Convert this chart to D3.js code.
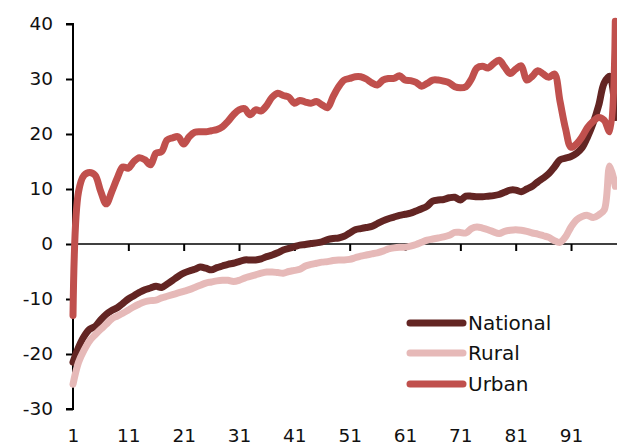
<!DOCTYPE html>
<html>
<head>
<meta charset="utf-8">
<script src="https://cdn.jsdelivr.net/npm/d3@7"></script>
<style>
  html, body { margin: 0; padding: 0; background: #fff; }
  svg { display: block; font-family: "DejaVu Sans", sans-serif; }
</style>
</head>
<body>
<svg id="chart" width="617" height="444"></svg>
<script>
const categories = d3.range(1, 100);
const xTickLabels = [1, 11, 21, 31, 41, 51, 61, 71, 81, 91];
const yTickLabels = [-30, -20, -10, 0, 10, 20, 30, 40];
const seriesNames = ["National", "Rural", "Urban"];

const national = [
  -21.5, -18.8, -16.8, -15.5, -15.0, -13.8, -12.8, -12.1, -11.6, -10.8,
  -10.0, -9.4, -8.8, -8.3, -8.0, -7.7, -7.9, -7.3, -6.6, -5.9,
  -5.3, -4.9, -4.6, -4.2, -4.4, -4.7, -4.3, -4.0, -3.7, -3.5,
  -3.2, -2.9, -2.9, -2.9, -2.7, -2.3, -2.0, -1.6, -1.1, -0.8,
  -0.5, -0.2, -0.1, 0.1, 0.2, 0.4, 0.8, 1.0, 1.1, 1.4,
  2.0, 2.6, 2.8, 3.0, 3.2, 3.7, 4.2, 4.6, 4.9, 5.2,
  5.4, 5.6, 6.0, 6.4, 6.9, 7.8, 8.0, 8.1, 8.4, 8.5,
  8.0, 8.7, 8.7, 8.6, 8.6, 8.7, 8.8, 9.0, 9.4, 9.8,
  9.8, 9.5, 10.0, 10.5, 11.3, 12.0, 12.8, 14.0, 15.3, 15.6,
  15.9, 16.5, 17.5, 19.5, 22.0, 25.2, 29.3, 30.5, 23.0
];

const rural = [
  -25.5, -21.5, -19.3, -17.6, -16.5, -15.5, -14.6, -13.6, -13.1, -12.6,
  -12.0, -11.4, -10.9, -10.5, -10.3, -10.2, -9.8, -9.5, -9.2, -8.9,
  -8.6, -8.3, -7.9, -7.5, -7.1, -6.9, -6.7, -6.6, -6.6, -6.8,
  -6.6, -6.2, -5.9, -5.6, -5.3, -5.1, -5.1, -5.2, -5.3, -5.0,
  -4.8, -4.6, -4.0, -3.7, -3.5, -3.3, -3.2, -3.0, -2.9, -2.9,
  -2.8, -2.5, -2.2, -2.0, -1.8, -1.6, -1.3, -0.9, -0.7, -0.6,
  -0.6, -0.4, -0.1, 0.3, 0.7, 0.9, 1.1, 1.3, 1.6, 2.1,
  2.1, 2.0, 2.8, 3.1, 2.9, 2.6, 2.2, 1.9, 2.3, 2.5,
  2.6, 2.5, 2.3, 2.0, 1.8, 1.5, 1.2, 0.6, 0.3, 1.3,
  3.1, 4.4, 5.0, 5.2, 4.8, 5.3, 6.2, 14.2, 10.5
];

const urban = [
  -13.0, 9.5, 12.5, 13.0, 12.5, 9.6, 7.3, 9.5, 12.0, 14.0,
  13.8, 15.0, 15.7, 15.3, 14.4, 16.5, 16.8, 18.9, 19.3, 19.5,
  18.2, 19.5, 20.3, 20.4, 20.4, 20.6, 20.8, 21.3, 22.3, 23.5,
  24.4, 24.6, 23.5, 24.4, 24.2, 25.2, 26.7, 27.4, 27.0, 26.7,
  25.6, 26.1, 25.8, 25.6, 25.9, 25.3, 24.8, 26.8, 28.6, 29.8,
  30.1, 30.4, 30.4, 30.0, 29.3, 28.9, 29.8, 30.1, 30.1, 30.6,
  29.8, 29.7, 29.4, 28.7, 29.2, 29.8, 29.8, 29.6, 29.3, 28.6,
  28.4, 28.6, 30.0, 32.0, 32.3, 32.0, 32.8, 33.4, 32.2, 31.0,
  31.8, 32.4, 29.8, 30.5, 31.5, 30.9, 30.3, 30.9, 26.0, 21.0,
  17.6, 18.2, 19.5, 21.2, 22.3, 23.0, 22.5, 20.4, 40.5
];

const colors = { National: "#632523", Rural: "#E6B9B8", Urban: "#C0504D" };
const seriesData = { National: national, Rural: rural, Urban: urban };

const svg = d3.select("#chart");

const x = d3.scalePoint().domain(categories).range([73, 615.3]);
const y = d3.scaleLinear().domain([-30, 40]).range([409, 24]);

// Y axis
const yAxis = svg.append("g")
  .attr("transform", "translate(73,0)")
  .call(d3.axisLeft(y).tickValues(yTickLabels).tickSize(7).tickPadding(13).tickFormat(d => String(d)));
yAxis.select(".domain").attr("stroke", "#000").attr("stroke-width", 2).attr("d", "M-7," + y(-30) + "H0V" + y(40) + "H-7");
yAxis.selectAll(".tick line").attr("stroke", "#000").attr("stroke-width", 2);
yAxis.selectAll(".tick text")
  .attr("fill", "#111")
  .style("font-family", "'DejaVu Sans', sans-serif")
  .style("font-size", "18.5px");

// X axis at zero
const xAxis = svg.append("g")
  .attr("transform", "translate(0," + y(0) + ")")
  .call(d3.axisBottom(x).tickValues(xTickLabels).tickSize(7).tickSizeOuter(0));
xAxis.select(".domain").attr("stroke", "#000").attr("stroke-width", 1.6).attr("d", "M73,0H617");
xAxis.selectAll(".tick line").attr("stroke", "#000").attr("stroke-width", 2);
xAxis.selectAll(".tick text")
  .attr("fill", "#111")
  .attr("y", 441.5 - y(0))
  .attr("dy", 0)
  .style("font-family", "'DejaVu Sans', sans-serif")
  .style("font-size", "18.5px");

// Lines
const line = d3.line()
  .x((d, i) => x(categories[i]))
  .y(d => y(d))
  .curve(d3.curveCatmullRom.alpha(0.5));

seriesNames.forEach(name => {
  svg.append("path")
    .datum(seriesData[name])
    .attr("fill", "none")
    .attr("stroke", colors[name])
    .attr("stroke-width", 7)
    .attr("stroke-linejoin", "round")
    .attr("stroke-linecap", "round")
    .attr("d", line);
});

// Legend
const legendY = [323, 353, 384];
const legend = svg.append("g");
seriesNames.forEach((name, i) => {
  legend.append("line")
    .attr("x1", 410).attr("x2", 463)
    .attr("y1", legendY[i]).attr("y2", legendY[i])
    .attr("stroke", colors[name])
    .attr("stroke-width", 7)
    .attr("stroke-linecap", "round");
  legend.append("text")
    .attr("x", 468)
    .attr("y", legendY[i] + 7.3)
    .attr("fill", "#111")
    .style("font-size", "20px")
    .text(name);
});
</script>
</body>
</html>
